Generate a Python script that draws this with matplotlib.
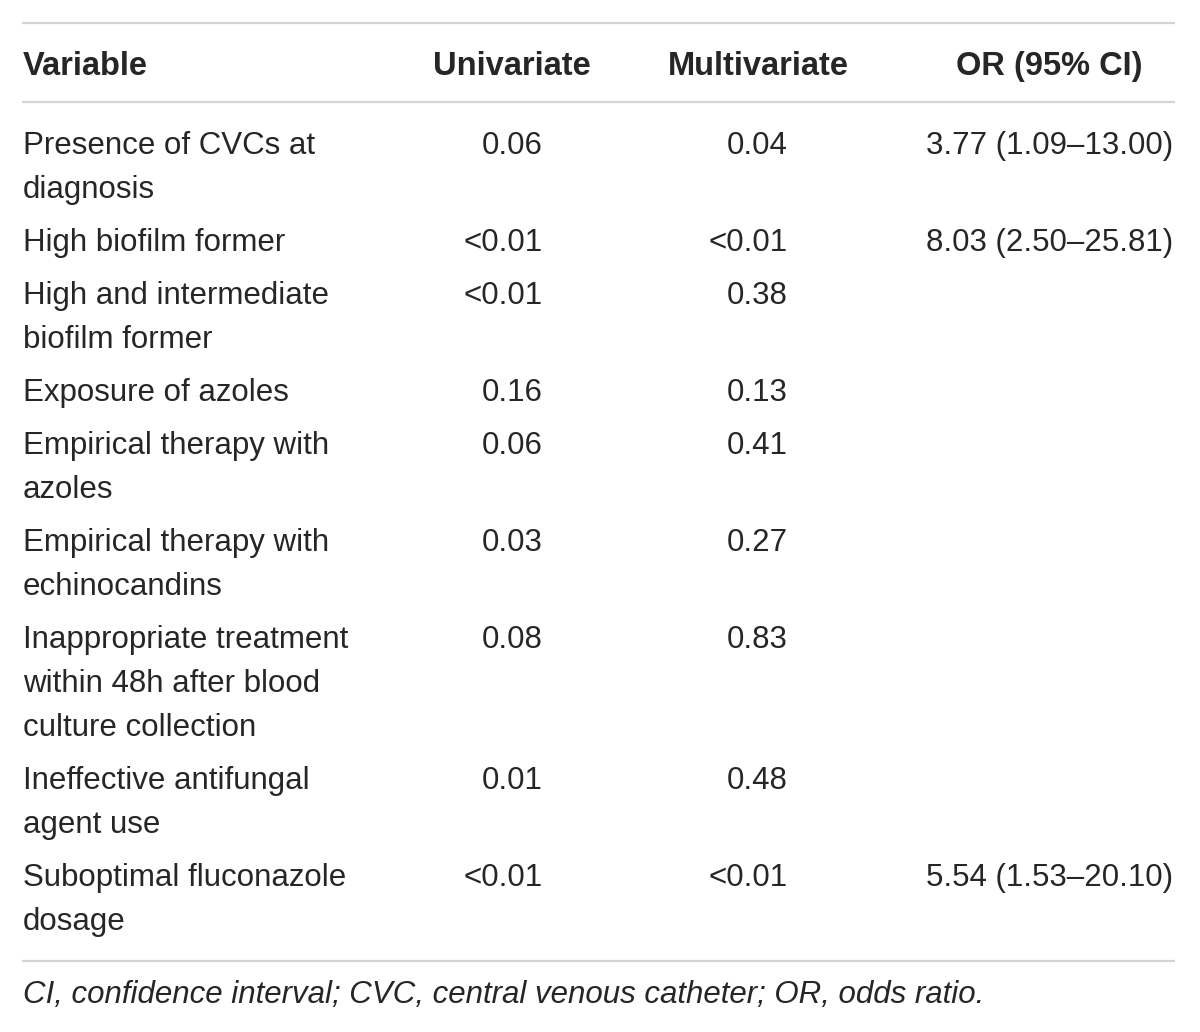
import matplotlib.pyplot as plt

plt.rcParams['font.family'] = ['Liberation Sans', 'DejaVu Sans']

headers = ["Variable", "Univariate", "Multivariate", "OR (95% CI)"]
variables = ["Presence of CVCs at\ndiagnosis",
             "High biofilm former",
             "High and intermediate\nbiofilm former",
             "Exposure of azoles",
             "Empirical therapy with\nazoles",
             "Empirical therapy with\nechinocandins",
             "Inappropriate treatment\nwithin 48h after blood\nculture collection",
             "Ineffective antifungal\nagent use",
             "Suboptimal fluconazole\ndosage"]
univariate = ["0.06", "<0.01", "<0.01", "0.16", "0.06", "0.03", "0.08", "0.01", "<0.01"]
multivariate = ["0.04", "<0.01", "0.38", "0.13", "0.41", "0.27", "0.83", "0.48", "<0.01"]
odds_ratio = ["3.77 (1.09\u201313.00)", "8.03 (2.50\u201325.81)", "", "", "", "", "", "",
              "5.54 (1.53\u201320.10)"]
footnote = "CI, confidence interval; CVC, central venous catheter; OR, odds ratio."

txt = '#262626'
rule = '#d4d4d4'
fs = 22.5
fs_head = 23.5
line_h = 44
pad = 9
# shift from visual middle of capitals to baseline (pixels)
base_off = 11

fig = plt.figure(figsize=(12, 10.32), dpi=100)
ax = fig.add_axes([0, 0, 1, 1])
ax.set_xlim(0, 1200)
ax.set_ylim(1032, 0)
ax.axis('off')

# rules
for y in (23, 102, 961):
    ax.plot([22, 1175], [y, y], color=rule, linewidth=1.6, solid_capstyle='butt')

# header
hy = 64 + base_off
ax.text(23, hy, headers[0], fontsize=fs_head, fontweight='bold', color=txt, va='baseline', ha='left')
ax.text(512, hy, headers[1], fontsize=fs_head, fontweight='bold', color=txt, va='baseline', ha='center')
ax.text(758, hy, headers[2], fontsize=fs_head, fontweight='bold', color=txt, va='baseline', ha='center')
ax.text(1143, hy, headers[3], fontsize=fs_head, fontweight='bold', color=txt, va='baseline', ha='right')

y = 143
for var, uni, mul, orc in zip(variables, univariate, multivariate, odds_ratio):
    lines = var.split('\n')
    yb = y + base_off
    for i, ln in enumerate(lines):
        ax.text(23, yb + i * line_h, ln, fontsize=fs, color=txt, va='baseline', ha='left')
    ax.text(543, yb, uni, fontsize=fs, color=txt, va='baseline', ha='right')
    ax.text(788, yb, mul, fontsize=fs, color=txt, va='baseline', ha='right')
    if orc:
        ax.text(1173, yb, orc, fontsize=fs, color=txt, va='baseline', ha='right')
    y += len(lines) * line_h + pad

ax.text(23, 992 + base_off, footnote, fontsize=fs, color=txt, style='italic', va='baseline', ha='left')

fig.savefig('out.png', dpi=100)
